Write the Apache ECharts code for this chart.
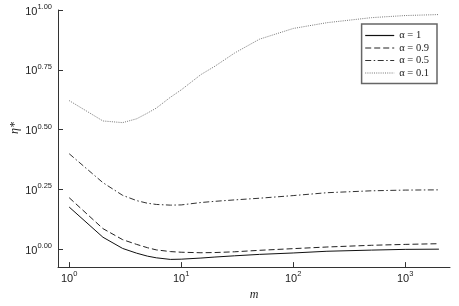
<!DOCTYPE html>
<html><head><meta charset="utf-8">
<script src="https://cdn.jsdelivr.net/npm/echarts@6/dist/echarts.min.js"></script>
<style>html,body{margin:0;padding:0;background:#fff}#c{width:459px;height:306px}</style>
</head><body><div id="c"></div>
<script>
const mValues = [1,2,3,4,5,6,8,10,15,20,30,50,100,200,500,1000,2000];
const etaAlpha1  = [1.50,1.122,1.007,0.962,0.935,0.920,0.906,0.908,0.918,0.927,0.938,0.951,0.964,0.980,0.991,0.998,1.000];
const etaAlpha09 = [1.641,1.219,1.096,1.047,1.014,0.993,0.977,0.971,0.966,0.968,0.975,0.989,1.005,1.021,1.038,1.047,1.054];
const etaAlpha05 = [2.506,1.897,1.679,1.596,1.556,1.538,1.528,1.531,1.567,1.585,1.607,1.633,1.675,1.722,1.754,1.766,1.770];
const etaAlpha01 = [4.18,3.436,3.381,3.508,3.707,3.89,4.315,4.634,5.37,5.82,6.61,7.55,8.37,8.85,9.29,9.48,9.57];
const seriesNames = ['α = 1','α = 0.9','α = 0.5','α = 0.1'];
const xTickExps = [0,1,2,3];
const yTickExps = [0,0.25,0.5,0.75,1.0];

const toPts = eta => mValues.map((m,i)=>[Math.log10(m), Math.log10(eta[i])]);
const styles = [
  {color:'#111', type:'solid'},
  {color:'#222', type:[6,3]},
  {color:'#333', type:[6,2.5,1.5,2.5]},
  {color:'#777', type:[1,1.2]}
];
const allData = [etaAlpha1, etaAlpha09, etaAlpha05, etaAlpha01];
const serif = '"Liberation Serif","DejaVu Serif",serif';
const sans = '"Liberation Sans","DejaVu Sans",sans-serif';
const rich = {
  b:{fontSize:11, fontFamily:sans, color:'#222', verticalAlign:'bottom', lineHeight:14},
  s:{fontSize:7.5, fontFamily:sans, color:'#222', verticalAlign:'top', lineHeight:14}
};
const chart = echarts.init(document.getElementById('c'), null, {renderer:'canvas'});
chart.setOption({
  animation:false,
  backgroundColor:'#fff',
  grid:{left:58, right:9, top:10, bottom:24},
  legend:{
    orient:'vertical', right:22, top:24,
    padding:[6,8,5,3], itemWidth:29, itemHeight:8, itemGap:1.5,
    borderColor:'#666', borderWidth:1.5,
    itemStyle:{opacity:0},
    lineStyle:{width:1.2},
    textStyle:{fontFamily:serif, fontSize:10.5, color:'#222'},
    data: seriesNames
  },
  xAxis:{
    type:'value', min:-0.1, max:3.4,
    name:'m', nameLocation:'middle', nameGap:18,
    nameTextStyle:{fontFamily:serif, fontStyle:'italic', fontSize:12, color:'#222'},
    axisLine:{onZero:false, lineStyle:{color:'#333', width:1}},
    axisTick:{inside:true, length:5, lineStyle:{color:'#333'}, customValues:xTickExps},
    axisLabel:{margin:3, customValues:xTickExps, formatter:v=>'{b|10}{s|'+v+'}', rich:rich},
    splitLine:{show:false}
  },
  yAxis:{
    type:'value', min:-0.075, max:1.0,
    axisLine:{show:true, onZero:false, lineStyle:{color:'#333', width:1}},
    axisTick:{show:true, inside:true, length:5, lineStyle:{color:'#333'}, customValues:yTickExps},
    axisLabel:{margin:6, customValues:yTickExps, formatter:v=>'{b|10}{s|'+v.toFixed(2)+'}', rich:rich},
    splitLine:{show:false}
  },
  graphic:[{
    type:'text', x:15, y:128, rotation:Math.PI/2,
    style:{text:'η*', font:'italic 12px '+serif, fill:'#222', align:'center', verticalAlign:'middle'}
  }],
  series: allData.map((d,i)=>({
    name: seriesNames[i], type:'line', data: toPts(d),
    symbol:'none', lineStyle:{color:styles[i].color, width:1, type:styles[i].type},
    itemStyle:{color:styles[i].color}
  }))
});
</script></body></html>
